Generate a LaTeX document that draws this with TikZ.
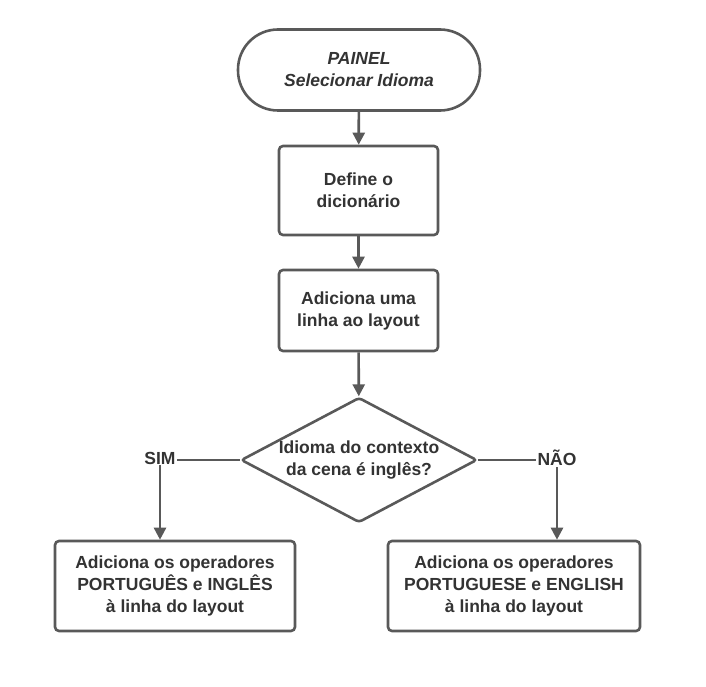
\documentclass[tikz,border=0pt]{standalone}
\usepackage{fontspec}
\setmainfont{Liberation Sans}
\usetikzlibrary{arrows.meta,shapes.geometric}

\definecolor{linegray}{HTML}{595959}
\definecolor{textgray}{HTML}{333333}

\tikzset{
	flowline/.style={line width=2.6pt, draw=linegray},
	flowarrow/.style={flowline, -{Triangle[length=12pt,width=12pt]}},
	procbox/.style={flowline, rectangle, rounded corners=4pt, fill=white,
		align=center, text=textgray, font=\bfseries\fontsize{17.5}{22}\selectfont},
	termbox/.style={procbox, rounded corners=40pt, font=\bfseries\itshape\fontsize{17.5}{22}\selectfont},
	decbox/.style={procbox, diamond, rounded corners=3pt, aspect=1.9, inner sep=0pt},
	branchlabel/.style={text=textgray, font=\bfseries\fontsize{17.5}{20}\selectfont, inner sep=1pt}
}

\begin{document}
\begin{tikzpicture}[x=1pt, y=-1pt]

\path [use as bounding box] (0,0) rectangle (706,687);

% NODES
\node [termbox, minimum width=242pt, minimum height=81pt] (painel) at (359,70) {PAINEL\\Selecionar Idioma};
\node [procbox, minimum width=159pt, minimum height=89pt] (dicio) at (358.5,190.5) {Define o\\dicionário};
\node [procbox, minimum width=159pt, minimum height=81pt] (linha) at (358.5,310.5) {Adiciona uma\\linha ao layout};
\node [decbox, minimum width=236pt, minimum height=125pt] (idioma) at (359,460) {Idioma do contexto\\da cena é inglês?};
\node [branchlabel] (sim) at (160,458) {SIM};
\node [branchlabel] (nao) at (557,458) {NÃO};
\node [procbox, minimum width=240pt, minimum height=90pt] (opbr) at (175,586) {Adiciona os operadores\\PORTUGUÊS e INGLÊS\\à linha do layout};
\node [procbox, minimum width=252pt, minimum height=90pt] (open) at (514,586) {Adiciona os operadores\\PORTUGUESE e ENGLISH\\à linha do layout};

% CONNECTORS
\draw [flowarrow] (painel) -- (dicio);
\draw [flowarrow] (dicio) -- (linha);
\draw [flowarrow] (linha) -- (idioma);
\draw [flowline] (idioma.west) -- (idioma.west -| sim.east);
\draw [flowline] (idioma.east) -- (idioma.east -| nao.west);
\draw [flowarrow] (sim.south) -- (sim.south |- opbr.north);
\draw [flowarrow] (nao.south) -- (nao.south |- open.north);

\end{tikzpicture}
\end{document}
